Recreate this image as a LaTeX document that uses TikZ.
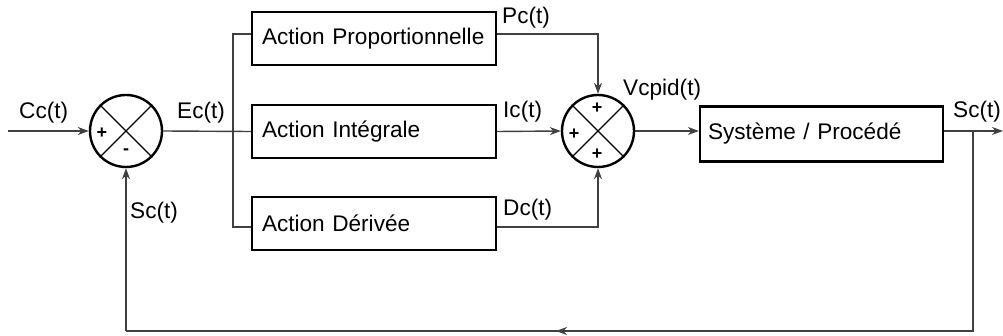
\documentclass[tikz,border=0pt]{standalone}
\usepackage{fontspec}
\setmainfont{Liberation Sans}
\usetikzlibrary{arrows.meta}
\begin{document}
\begin{tikzpicture}[x=1pt,y=-1pt,
  every node/.style={font=\fontsize{22.6}{26}\selectfont},
  blk/.style={draw=black,line width=2.2pt,minimum height=53pt,inner xsep=10pt,inner ysep=0pt,align=left},
  sum/.style={draw=black,line width=2.4pt,circle,minimum size=72pt,inner sep=0pt},
  cross/.style={line width=1.3pt,draw=black},
  wire/.style={line width=1.4pt,draw=black!75},
  arr/.style={wire,-{Stealth[length=11pt,width=8pt,inset=3.5pt]}},
  lbl/.style={anchor=west,inner sep=0pt},
  sgn/.style={inner sep=0pt,font=\fontsize{18}{18}\selectfont\bfseries}]
\useasboundingbox (0,0) rectangle (1003,336);
% summing junctions
\node[sum] (s1) at (126,131) {};
\draw[cross] (s1.45) -- (s1.225) (s1.135) -- (s1.315);
\node[sgn] (s1p) at (102,133) {+};
\node[sgn] (s1m) at (126,152) {-};
\node[sum] (s2) at (598,131) {};
\draw[cross] (s2.45) -- (s2.225) (s2.135) -- (s2.315);
\node[sgn] (s2t) at (597,108) {+};
\node[sgn] (s2l) at (574,134) {+};
\node[sgn] (s2b) at (597,154) {+};
% blocks
\node[blk,text width=224pt] (P) at (374,38.5) {Action Proportionnelle};
\node[blk,text width=224pt] (I) at (374,131.5) {Action Intégrale};
\node[blk,text width=224pt] (D) at (374,223.5) {Action Dérivée};
\node[blk,text width=227pt,inner xsep=8pt,minimum height=55pt] (S) at (821.5,134) {Système / Procédé};
% coordinates
\coordinate (in) at (8,131);
\coordinate (out) at (1003,131);
\coordinate (br) at (973,131);
\coordinate (fb1) at (973,331);
\coordinate (mid) at (556,331);
\coordinate (fb2) at (126,331);
\coordinate (bus) at (233,131);
% wires
\draw[arr] (in) -- (s1.west);
\draw[wire] (s1.east) -- (I.west);
\draw[wire] ([yshift=4.5pt]P.west) -| (bus) |- ([yshift=-3.5pt]D.west);
\draw[arr] ([yshift=4.5pt]P.east) -| (s2.north);
\draw[arr] (I.east) -- (s2.west);
\draw[arr] ([yshift=-3.5pt]D.east) -| (s2.south);
\draw[arr] (s2.east) -- (s2.east -| S.west);
\draw[arr] (s2.east -| S.east) -- (out);
\draw[wire] (br) -- (fb1) -- (fb2);
\draw[arr] (fb1) -- (mid);
\draw[arr] (fb2) -- (s1.south);
% labels
\node[lbl] (lcc) at (19,113) {Cc(t)};
\node[lbl] (lec) at (177,113) {Ec(t)};
\node[lbl] (lsc) at (130,213) {Sc(t)};
\node[lbl] (lpc) at (502,18) {Pc(t)};
\node[lbl] (lic) at (503,112) {Ic(t)};
\node[lbl] (ldc) at (503,210) {Dc(t)};
\node[lbl] (lv) at (623,90) {Vcpid(t)};
\node[lbl] (lso) at (953,112) {Sc(t)};
\end{tikzpicture}
\end{document}
